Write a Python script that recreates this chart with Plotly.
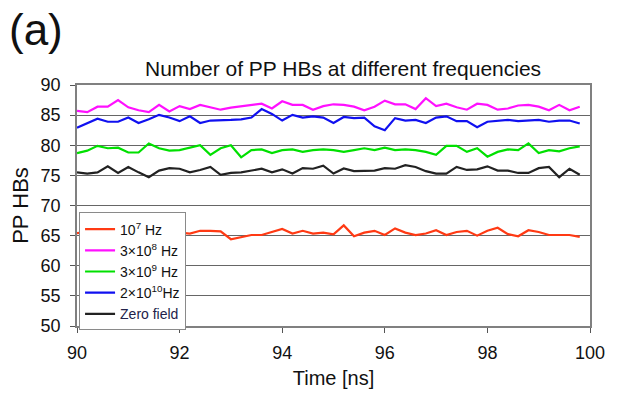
import plotly.graph_objects as go

time_ns = [round(90 + 0.2 * k, 1) for k in range(50)]

f_1e7 = [65.4, 65.6, 65.3, 65.5, 65.7, 65.4, 65.6, 65.3, 65.5,
         65.5, 65.5, 65.35, 65.8, 65.8, 65.7, 64.4, 64.8, 65.1, 65.1,
         65.6, 66.1, 65.35, 65.8, 65.35, 65.5, 65.2, 66.7, 64.9, 65.5,
         65.8, 65.1, 66.2, 65.5, 65.1, 65.35, 65.9, 65.1, 65.6, 65.8,
         65.0, 65.8, 66.3, 65.25, 64.9, 65.9, 65.6, 65.1, 65.1, 65.1, 64.8]

f_3e8 = [85.7, 85.5, 86.4, 86.4, 87.5, 86.3, 85.8, 85.5, 86.7, 85.6,
         86.5, 86.0, 86.7, 86.3, 85.9, 86.25, 86.5, 86.7, 86.9, 86.1,
         87.3, 86.7, 86.7, 85.9, 86.5, 86.8, 86.7, 86.4, 85.8, 86.4,
         87.4, 86.8, 86.8, 86.0, 87.8, 86.5, 86.9, 86.3, 85.9, 86.9,
         86.7, 85.9, 86.1, 86.6, 86.7, 86.4, 85.8, 86.7, 85.8, 86.4]

f_3e9 = [78.7, 79.1, 79.9, 79.5, 79.6, 78.8, 78.8, 80.3, 79.5, 79.1,
         79.2, 79.6, 80.0, 78.4, 79.5, 80.0, 78.0, 79.2, 79.3, 78.7,
         79.2, 79.3, 78.9, 79.2, 79.3, 79.2, 78.9, 79.2, 79.5, 79.2,
         79.6, 79.2, 79.3, 79.2, 78.9, 78.4, 79.9, 79.9, 78.9, 79.5,
         78.1, 78.9, 79.3, 79.2, 80.3, 78.7, 79.2, 79.0, 79.5, 79.8]

f_2e10 = [82.9, 83.7, 84.4, 83.9, 83.9, 84.6, 83.7, 84.3, 85.05, 84.6,
          84.0, 84.8, 83.7, 84.1, 84.1, 84.2, 84.3, 84.6, 86.0, 85.2,
          84.1, 85.05, 84.6, 84.8, 84.6, 83.7, 84.7, 84.5, 84.6, 83.15,
          82.5, 84.5, 84.1, 84.2, 83.7, 84.6, 84.8, 84.0, 84.0, 83.0,
          83.9, 84.1, 84.2, 84.0, 84.1, 84.2, 83.9, 84.1, 84.1, 83.6]

zero_field = [75.5, 75.3, 75.5, 76.5, 75.4, 76.4, 75.5, 74.7, 75.8, 76.2,
              76.1, 75.5, 75.9, 76.4, 75.1, 75.4, 75.5, 75.8, 76.1, 75.5,
              76.0, 75.3, 76.2, 76.1, 76.6, 75.3, 76.15, 75.7, 75.8, 75.8,
              76.2, 76.1, 76.7, 76.4, 75.7, 75.3, 75.3, 76.4, 75.9, 76.0,
              76.5, 75.8, 75.8, 75.4, 75.4, 76.2, 76.4, 74.7, 76.1, 75.1]

series = [
    ("10<sup>7</sup> Hz", f_1e7, "#ff3a14"),
    ("3×10<sup>8</sup> Hz", f_3e8, "#ff10ff"),
    ("3×10<sup>9</sup> Hz", f_3e9, "#00e000"),
    ("2×10<sup>10</sup>Hz", f_2e10, "#1010f0"),
    ("<span style='color:#22224a'>Zero field</span>", zero_field, "#222222"),
]

x_ticks = [90, 92, 94, 96, 98, 100]
y_ticks = [50, 55, 60, 65, 70, 75, 80, 85, 90]

FONT = "Arial, Liberation Sans, sans-serif"

fig = go.Figure()
for name, vals, col in series:
    fig.add_trace(go.Scatter(x=time_ns, y=vals, mode="lines", name=name,
                             line=dict(color=col, width=2.2)))

fig.update_layout(
    width=617, height=398,
    margin=dict(l=77, r=17, t=85, b=69),
    paper_bgcolor="white", plot_bgcolor="white",
    font=dict(family=FONT, size=18, color="#111111"),
    title=dict(text="Number of PP HBs at different frequencies",
               x=0.556, xanchor="center", y=0.828, yanchor="middle",
               font=dict(size=21, color="#111111")),
    showlegend=True,
    legend=dict(x=0.004, y=0.471, xanchor="left", yanchor="top",
                bgcolor="white", bordercolor="#8a8a8a", borderwidth=1,
                font=dict(size=14, color="#111111"),
                itemwidth=30, tracegroupgap=0),
    annotations=[dict(text="(a)", x=0.0, y=1.0, xref="paper", yref="paper",
                      xanchor="left", yanchor="top", showarrow=False,
                      xshift=-77 + 7, yshift=85 - 3,
                      font=dict(size=44, color="#111111", family=FONT))],
)

fig.update_xaxes(range=[90, 100], tickvals=x_ticks, ticks="outside", ticklen=5,
                 tickcolor="#555555", showline=True, linecolor="#808080",
                 linewidth=1.5, mirror=True, showgrid=False, zeroline=False,
                 ticklabelstandoff=5,
                 title=dict(text="Time [ns]", font=dict(size=20), standoff=9))
fig.update_yaxes(range=[50, 90], tickvals=y_ticks, ticks="outside", ticklen=5,
                 tickcolor="#555555", showline=True, linecolor="#808080",
                 linewidth=1.5, mirror=True, showgrid=True, gridcolor="#666666",
                 gridwidth=1.1, zeroline=False, ticklabelstandoff=6,
                 title=dict(text="PP HBs", font=dict(size=22), standoff=6))

fig.write_html("out.html")
